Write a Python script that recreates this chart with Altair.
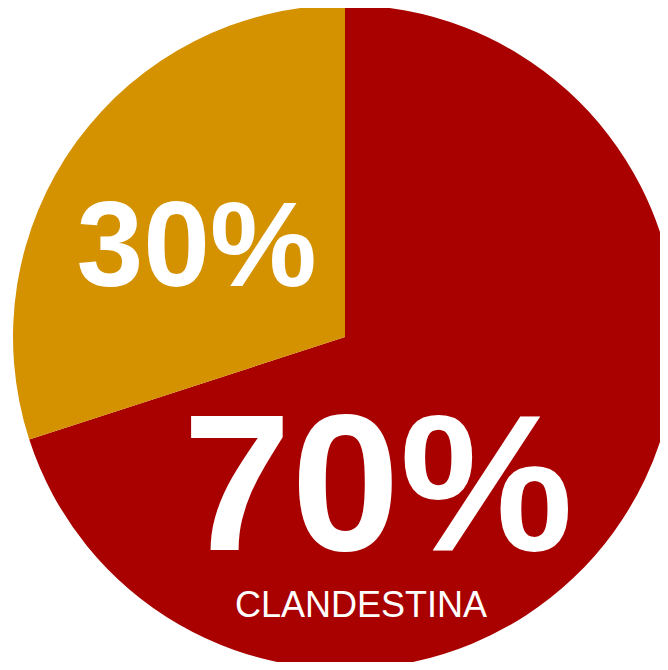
import altair as alt
import pandas as pd

categorias = ["CLANDESTINA", "OTRA"]
valores = [70, 30]
orden = [0, 1]
colores = ["#A90000", "#D49100"]

df = pd.DataFrame({"categoria": categorias, "valor": valores, "orden": orden})

base = alt.Chart(df).transform_calculate(
    pct="format(datum.valor, 'd') + '%'"
).encode(
    theta=alt.Theta("valor:Q", stack=True),
    order=alt.Order("orden:Q"),
    x=alt.value(337),
    y=alt.value(329),
)

arc = base.mark_arc(radius=332).encode(
    color=alt.Color("categoria:N", scale=alt.Scale(domain=categorias, range=colores), legend=None)
)

txt = dict(font="Liberation Sans", color="white", align="center", baseline="alphabetic")

lbl30 = base.mark_text(radius=150, dx=-27, dy=37, fontSize=120, fontWeight="bold", **txt).encode(
    text=alt.condition(alt.datum.categoria == "OTRA", alt.Text("pct:N"), alt.value(""))
)
lbl70 = base.mark_text(radius=152, dx=-90, dy=124, fontSize=195, fontWeight="bold", **txt).encode(
    text=alt.condition(alt.datum.categoria == "CLANDESTINA", alt.Text("pct:N"), alt.value(""))
)
sub = base.mark_text(radius=152, dx=-107, dy=191, fontSize=36, **txt).encode(
    text=alt.condition(alt.datum.categoria == "CLANDESTINA", alt.Text("categoria:N"), alt.value(""))
)

chart = alt.layer(arc, lbl30, lbl70, sub).properties(
    width=652, height=654, padding=0, autosize="none"
).configure_view(stroke=None)

chart.save("out.html", embed_options={"renderer": "svg", "actions": False})
